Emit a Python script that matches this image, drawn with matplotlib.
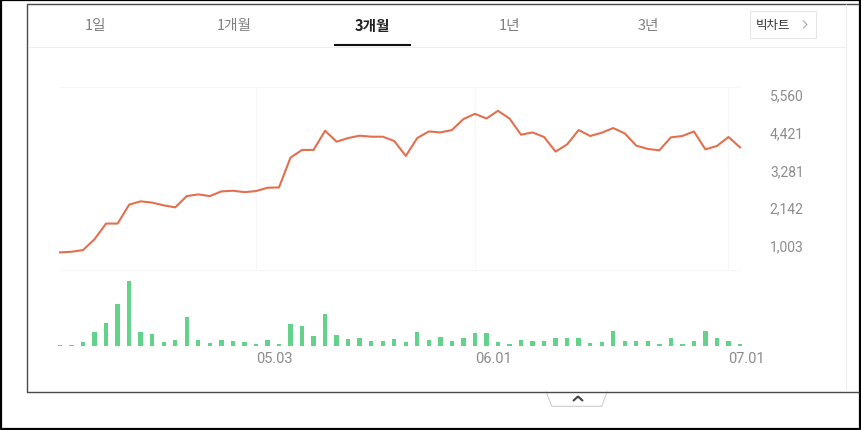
import matplotlib
matplotlib.use("Agg")
import matplotlib.pyplot as plt
from matplotlib.lines import Line2D
from matplotlib.patches import Rectangle, Polygon

# daily close prices (3 months)
prices = [775, 793, 844, 1174, 1646, 1646, 2217, 2317, 2278, 2196,
          2136, 2476, 2527, 2476, 2617, 2638, 2596, 2626, 2728, 2737,
          3639, 3871, 3871, 4451, 4120, 4231, 4301, 4271, 4271, 4141,
          3690, 4231, 4430, 4400, 4472, 4803, 4962, 4821, 5053, 4821,
          4331, 4400, 4262, 3820, 4039, 4472, 4292, 4391, 4532, 4370,
          4000, 3901, 3859, 4250, 4292, 4430, 3889, 3991, 4262, 3949]
# daily volume (thousand shares)
volumes = [3, 3, 30, 130, 223, 413, 640, 137, 117, 37,
           53, 280, 53, 23, 53, 47, 30, 17, 53, 13,
           213, 190, 90, 310, 103, 60, 70, 47, 43, 60,
           30, 133, 55, 85, 47, 70, 120, 120, 37, 17,
           53, 47, 47, 70, 70, 70, 23, 37, 143, 40,
           40, 40, 17, 77, 17, 47, 147, 70, 40, 17]
price_ticks = [1003, 2142, 3281, 4421, 5560]
date_pos = [17, 36, 58]
date_labels = ["05.03", "06.01", "07.01"]
tabs = ["1일", "1개월", "3개월", "1년", "3년"]
active_tab = "3개월"

W, H = 862, 431
KR = ["Noto Sans CJK KR", "DejaVu Sans"]
NUM = ["Roboto", "DejaVu Sans"]
LINE_C = "#e2704f"
BAR_C = "#63d38b"
GRID_C = "#f7f7f7"
LABEL_C = "#8c8c8c"


def fx(x):
    return x / W


def fy(y):
    return 1 - y / H


def box(x0, y0, x1, y1):
    return [fx(x0), fy(y1), (x1 - x0) / W, (y1 - y0) / H]


fig = plt.figure(figsize=(W / 100, H / 100), dpi=100)


def fline(xs, ys, color, lw, zorder=5):
    fig.add_artist(Line2D([fx(x) for x in xs], [fy(y) for y in ys],
                          color=color, lw=lw, zorder=zorder,
                          solid_capstyle="butt"))


# outer black frame and panel border
fline([1, 1, 860, 860, 1], [1, 430, 430, 1, 1], "black", 1.6)
fline([859, 27.5, 27.5, 859], [4.5, 4.5, 392.5, 392.5], "#4a4a4a", 1.0)
fline([846, 846], [5, 392], "#eeeeee", 0.8)
fline([28, 846], [47.5, 47.5], "#eeeeee", 0.8)

# tabs
for i, t in enumerate(tabs):
    x = 96 + i * 138
    if t == active_tab:
        fig.text(fx(x), fy(26), t, ha="center", va="center", fontsize=10.5,
                 family=KR, weight="bold", color="#222222")
        fline([334, 411], [46.3, 46.3], "#111111", 1.5, zorder=6)
    else:
        fig.text(fx(x), fy(26), t, ha="center", va="center", fontsize=10.5,
                 family=KR, color="#808080")

# big chart button
fig.add_artist(Rectangle((fx(750), fy(39)), 66 / W, 27 / H, transform=fig.transFigure,
                         fill=False, edgecolor="#e6e6e6", lw=0.8))
fig.text(fx(773), fy(25.5), "빅차트", ha="center", va="center", fontsize=9,
         family=KR, color="#333333")
fline([803, 807, 803], [21.5, 25.5, 29.5], "#aaaaaa", 0.8)

# price chart
ax = fig.add_axes(box(60, 88, 740, 271))
x = list(range(len(prices)))
ax.plot(x, prices, color=LINE_C, lw=1.5, clip_on=False, zorder=3)
ax.set_xlim(0, len(prices) - 1)
ax.set_ylim(242, 5773)
ax.set_yticks(price_ticks)
ax.set_yticklabels([f"{v:,}" for v in price_ticks])
ax.yaxis.tick_right()
ax.tick_params(axis="y", length=0, pad=21.5, labelsize=10, labelcolor=LABEL_C)
for lab in ax.get_yticklabels():
    lab.set_family(NUM)
ax.set_xticks(date_pos)
ax.tick_params(axis="x", length=0, labelbottom=False)
ax.grid(axis="x", color=GRID_C, lw=0.8)
for s in ["left", "right"]:
    ax.spines[s].set_visible(False)
for s in ["top", "bottom"]:
    ax.spines[s].set_color(GRID_C)
    ax.spines[s].set_linewidth(0.8)

# volume chart
axv = fig.add_axes(box(60, 282, 740, 346.5))
axv.bar(x, volumes, width=0.38, color=BAR_C, clip_on=False)
axv.set_xlim(0, len(prices) - 1)
axv.set_ylim(0, max(volumes))
axv.set_yticks([])
axv.set_xticks(date_pos)
axv.set_xticklabels(date_labels)
axv.tick_params(axis="x", length=0, pad=4, labelsize=10.5, labelcolor=LABEL_C)
for lab in axv.get_xticklabels():
    lab.set_ha("left")
    lab.set_family(NUM)
for s in axv.spines.values():
    s.set_visible(False)

# collapse tab under the panel
fig.add_artist(Polygon([(fx(546), fy(392.5)), (fx(551.7), fy(407.3)),
                        (fx(601.7), fy(407.3)), (fx(607.3), fy(392.5))],
                       closed=False, transform=fig.transFigure,
                       facecolor="white", edgecolor="#cfcfcf", lw=0.8))
fline([573, 578, 583], [402, 397.5, 402], "#444444", 1.5, zorder=7)

fig.savefig("out.png", dpi=100)
